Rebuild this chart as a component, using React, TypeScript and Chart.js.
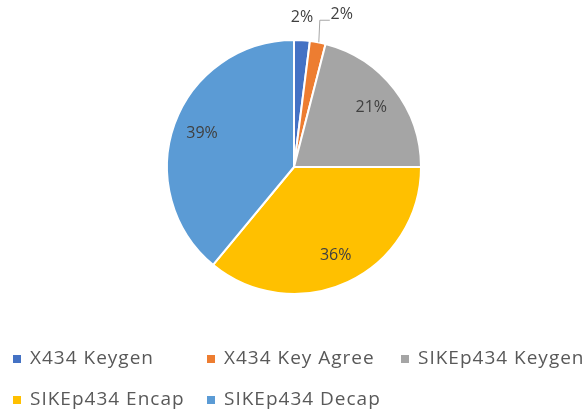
import React, { useEffect, useRef } from "react";
import { Chart, registerables } from "chart.js";

Chart.register(...registerables);

const categories = ["X434 Keygen", "X434 Key Agree", "SIKEp434 Keygen", "SIKEp434 Encap", "SIKEp434 Decap"];
const shares = [2, 2, 21, 36, 39];
const colors = ["#4472C4", "#ED7D31", "#A5A5A5", "#FFC000", "#5B9BD5"];

const FONT = "'Open Sans', 'Liberation Sans', sans-serif";
const TEXT = "#595959";

const labelPlugin = {
  id: "sliceLabels",
  afterDatasetsDraw(chart: any) {
    const ctx = chart.ctx;
    const meta = chart.getDatasetMeta(0);
    ctx.save();
    ctx.font = `16px ${FONT}`;
    ctx.fillStyle = "#404040";
    ctx.textAlign = "center";
    ctx.textBaseline = "middle";
    meta.data.forEach((arc: any, i: number) => {
      const { x, y, startAngle, endAngle, outerRadius } = arc.getProps(["x", "y", "startAngle", "endAngle", "outerRadius"], true);
      const mid = (startAngle + endAngle) / 2;
      const text = `${shares[i]}%`;
      if (shares[i] >= 5) {
        const r = outerRadius * 0.77;
        ctx.fillText(text, x + Math.cos(mid) * r, y + Math.sin(mid) * r);
      } else if (i === 0) {
        const ex = x + Math.cos(mid) * outerRadius;
        const ey = y + Math.sin(mid) * outerRadius;
        ctx.fillText(text, ex, ey - 23);
      } else {
        const ex = x + Math.cos(mid) * outerRadius;
        const ey = y + Math.sin(mid) * outerRadius;
        ctx.strokeStyle = "#A6A6A6";
        ctx.lineWidth = 1;
        ctx.beginPath();
        ctx.moveTo(ex + 1, ey);
        ctx.lineTo(ex + 2, ey - 22);
        ctx.lineTo(ex + 12, ey - 22);
        ctx.stroke();
        ctx.fillText(text, ex + 24, ey - 28);
      }
    });
    ctx.restore();
  },
};

const legendPlugin = {
  id: "gridLegend",
  afterDraw(chart: any) {
    const ctx = chart.ctx;
    const cols = [13, 207, 401];
    const rows = [359, 400];
    ctx.save();
    ctx.font = `19px ${FONT}`;
    (ctx as any).letterSpacing = "1px";
    ctx.textBaseline = "middle";
    ctx.textAlign = "left";
    categories.forEach((name, i) => {
      const cx = cols[i % 3];
      const cy = rows[Math.floor(i / 3)];
      ctx.fillStyle = colors[i];
      ctx.fillRect(cx, cy - 4, 8, 8);
      ctx.fillStyle = TEXT;
      ctx.fillText(name, cx + 17, cy);
    });
    ctx.restore();
  },
};

export default function App() {
  const ref = useRef<HTMLCanvasElement>(null);
  useEffect(() => {
    if (!ref.current) return;
    const chart = new Chart(ref.current, {
      type: "pie",
      data: {
        labels: categories,
        datasets: [
          {
            data: shares,
            backgroundColor: colors,
            borderColor: "#FFFFFF",
            borderWidth: 2,
          },
        ],
      },
      options: {
        responsive: false,
        animation: false,
        layout: { padding: { top: 39, bottom: 114, left: 100, right: 98 } },
        plugins: {
          legend: { display: false },
          tooltip: { enabled: false },
        },
      },
      plugins: [labelPlugin, legendPlugin],
    });
    return () => chart.destroy();
  }, []);
  return (
    <div style={{ position: "fixed", left: 0, top: 0, width: 586, height: 409, background: "#fff" }}>
      <canvas ref={ref} width={586} height={409} />
    </div>
  );
}
